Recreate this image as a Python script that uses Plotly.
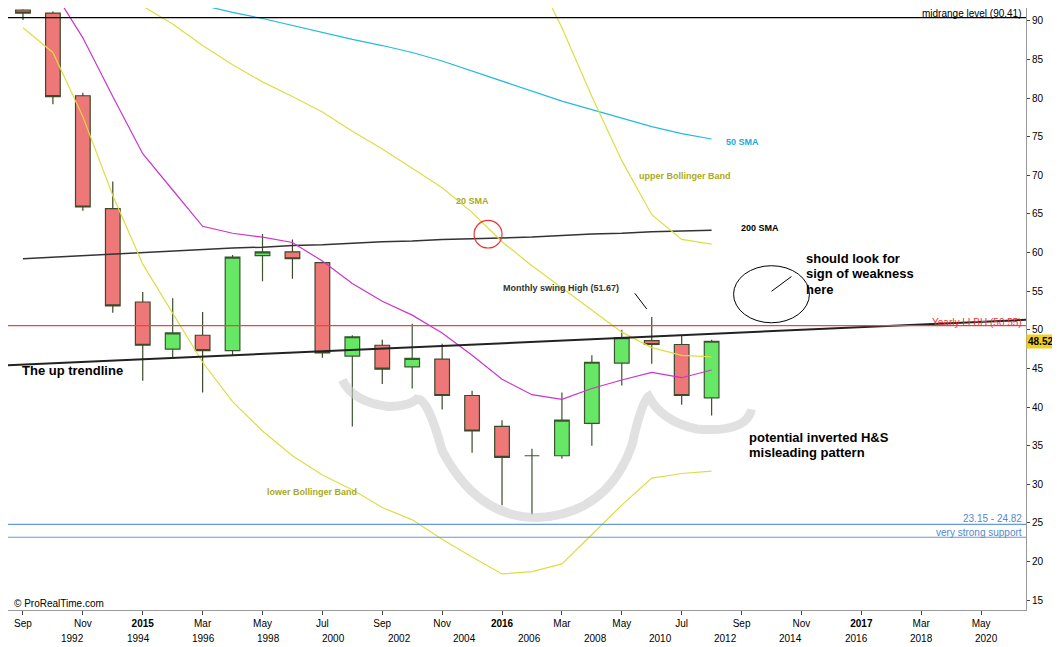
import plotly.graph_objects as go

months = ["Sep14","Oct14","Nov14","Dec14","Jan15","Feb15","Mar15","Apr15","May15","Jun15","Jul15","Aug15",
          "Sep15","Oct15","Nov15","Dec15","Jan16","Feb16","Mar16","Apr16","May16","Jun16","Jul16","Aug16"]
opens  = [91.4,91.0,80.3,65.7,53.6,47.5,49.3,47.3,59.6,60.1,58.7,46.6,48.0,45.2,46.2,41.5,37.5,33.7,33.7,37.9,45.7,48.6,48.1,41.2]
highs  = [91.5,91.2,80.7,69.2,54.9,54.1,52.3,59.7,62.4,61.7,58.8,49.3,48.7,50.8,48.2,42.1,38.3,34.6,41.9,46.7,50.0,51.67,49.3,48.7]
lows   = [90.1,79.2,65.4,52.2,43.4,46.4,41.9,46.7,56.3,56.6,46.4,37.5,43.0,42.4,39.7,34.1,27.3,26.1,33.3,35.0,42.8,45.6,40.3,38.9]
closes = [91.0,80.2,65.9,53.1,48.0,49.6,47.3,59.4,60.1,59.2,47.0,49.1,44.9,46.3,41.5,36.9,33.5,33.7,38.3,45.8,49.0,48.1,41.5,48.52]

sma20  = [None,None,None,95.0,91.9,89.6,86.8,84.3,82.1,80.2,78.2,75.7,73.4,70.9,68.4,65.2,61.4,58.3,55.4,52.5,49.7,47.7,46.7,46.5]
upper_bb = [None]*17 + [97.0,89.1,80.2,71.9,64.9,61.7,61.1]
lower_bb = [89.1,85.9,77.6,67.4,58.5,52.2,45.8,40.7,36.9,33.7,31.2,29.3,27.0,25.4,22.9,20.6,18.4,18.7,19.7,23.5,27.3,30.8,31.4,31.7]
magenta = [None,94.0,87.8,80.2,72.8,68.1,63.4,62.5,62.0,61.3,58.9,56.0,53.7,51.9,49.6,46.7,43.6,41.6,41.0,42.4,43.5,44.5,43.8,44.8]
sma50  = [None]*6 + [92.0,91.1,90.3,89.4,88.5,87.6,86.8,85.9,84.8,83.5,82.1,80.9,79.6,78.5,77.4,76.3,75.4,74.7]
sma200 = [59.2,59.4,59.6,59.8,60.0,60.2,60.4,60.6,60.7,60.9,61.0,61.2,61.4,61.5,61.7,61.8,61.9,62.0,62.2,62.4,62.5,62.7,62.8,62.9]

trend_x = [-0.5, 33.5]; trend_y = [45.4, 51.3]
midrange = 90.41; yearly = 50.55; support_hi = 24.82; support_lo = 23.15
last_price = 48.52

tick_labels = ["Sep","Nov","2015","Mar","May","Jul","Sep","Nov","2016","Mar","May","Jul","Sep","Nov","2017","Mar","May"]
year_labels = ["1992","1994","1996","1998","2000","2002","2004","2006","2008","2010","2012","2014","2016","2018","2020"]

x = list(range(len(months)))
W, H = 1020, 612
def px(v): return v / W
def py(v): return 1 - v / H

fig = go.Figure()
def line(y, color, w=1.2):
    fig.add_trace(go.Scatter(x=x, y=y, mode="lines", line=dict(color=color, width=w), hoverinfo="skip"))
line(sma200, "#333333", 1.5)
line(sma50, "#22bbdd")
line(upper_bb, "#dddd44")
line(sma20, "#dddd44")
line(lower_bb, "#dddd44")
line(magenta, "#cc33cc")
fig.add_trace(go.Scatter(x=trend_x, y=trend_y, mode="lines", line=dict(color="#222222", width=2), hoverinfo="skip"))

fig.add_trace(go.Candlestick(x=x, open=opens, high=highs, low=lows, close=closes,
    increasing=dict(fillcolor="#66e866", line=dict(color="#3a5530", width=1.2)),
    decreasing=dict(fillcolor="#ee7777", line=dict(color="#3a4a2a", width=1.2)),
    whiskerwidth=0, hoverinfo="skip"))

for yv, c in [(midrange, "#000000"), (yearly, "#ee4444"), (support_hi, "#6699dd"), (support_lo, "#6699dd")]:
    fig.add_hline(y=yv, line=dict(color=c, width=1.2))

def P(a, b): return f"{px(a)},{py(b)}"
path = ("M " + P(335,378) + " Q " + P(345,400) + " " + P(380,405) + " Q " + P(405,405) + " " + P(412,395)
        + " M " + P(410,398) + " Q " + P(420,395) + " " + P(435,450) + " Q " + P(470,518) + " " + P(530,518)
        + " Q " + P(600,515) + " " + P(625,445) + " Q " + P(635,400) + " " + P(642,395)
        + " Q " + P(655,420) + " " + P(690,428) + " Q " + P(740,432) + " " + P(745,408))
fig.add_shape(type="path", path=path, xref="paper", yref="paper", line=dict(color="rgba(205,205,205,0.6)", width=9))
fig.add_shape(type="circle", xref="paper", yref="paper", x0=px(467), x1=px(495), y0=py(244), y1=py(216), line=dict(color="#ee3333", width=1.2))
fig.add_shape(type="circle", xref="paper", yref="paper", x0=px(727), x1=px(803), y0=py(320), y1=py(262), line=dict(color="#000", width=1))
fig.add_shape(type="line", xref="paper", yref="paper", x0=px(765), x1=px(785), y0=py(288), y1=py(273), line=dict(color="#000", width=1))
fig.add_shape(type="line", xref="paper", yref="paper", x0=px(628), x1=px(640), y0=py(290), y1=py(306), line=dict(color="#000", width=1))

def note(xp, yp, t, color="#000", size=9, anchor="left", bold=True):
    fig.add_annotation(x=px(xp), y=py(yp), xref="paper", yref="paper", text=f"<b>{t}</b>" if bold else t,
                       showarrow=False, xanchor=anchor, yanchor="middle",
                       font=dict(color=color, size=size, family="Liberation Sans, Arial"))
note(717, 136, "50 SMA", "#22aadd")
note(630, 171, "upper Bollinger Band", "#aaaa22")
note(447, 196, "20 SMA", "#aaaa22")
note(732, 224, "200 SMA")
note(494, 285, "Monthly swing High (51.67)", "#333")
note(798, 255, "should look for", size=13)
note(798, 270, "sign of weakness", size=13)
note(798, 286, "here", size=13)
note(12, 369, "The up trendline", size=13)
note(740, 437, "potential inverted H&S", size=13)
note(740, 452, "misleading pattern", size=13)
note(258, 492, "lower Bollinger Band", "#aaaa22")
note(4, 605, "© ProRealTime.com", "#000", 10, bold=False)
note(1018, 6, "midrange level (90.41)", "#000", 10, "right", False)
note(1018, 320, "Yearly LLBH (50.55)", "#ee3333", 10, "right", False)
note(1018, 519, "23.15 - 24.82", "#5588cc", 10, "right", False)
note(1018, 533, "very strong support", "#5588cc", 10, "right", False)
fig.add_annotation(x=1.0, y=last_price, xref="paper", yref="y", text="<b>48.52</b>", showarrow=False,
                   xanchor="left", bgcolor="#f0d020", font=dict(size=10, color="#000"), borderpad=1)
for i, t in enumerate(year_labels):
    fig.add_annotation(x=px(65 + i * 65.4), y=-0.048, xref="paper", yref="paper", text=t, showarrow=False,
                       xanchor="center", yanchor="middle", font=dict(size=10, color="#000"))

fig.update_layout(width=1060, height=647, margin=dict(l=0, r=42, t=0, b=45),
                  paper_bgcolor="white", plot_bgcolor="white", showlegend=False,
                  font=dict(family="Liberation Sans, Arial", color="#000"))
fig.update_xaxes(range=[-0.5, 33.5], rangeslider_visible=False, tickvals=list(range(0, 33, 2)),
                 ticktext=[f"<b>{t}</b>" if t.isdigit() else t for t in tick_labels],
                 showgrid=False, showline=True, linecolor="#999", ticks="outside", ticklen=4, tickfont=dict(size=10))
fig.update_yaxes(side="right", range=[13.73, 91.66], tickvals=list(range(15, 91, 5)), showgrid=False,
                 showline=True, linecolor="#999", ticks="outside", ticklen=3, tickfont=dict(size=10))
fig.write_html("out.html")
